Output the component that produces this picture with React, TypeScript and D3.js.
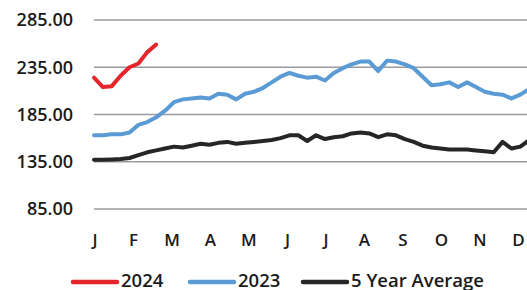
import { line, scaleLinear, select, curveLinear } from "d3";
import React, { useEffect, useRef } from "react";

const months = ["J", "F", "M", "A", "M", "J", "J", "A", "S", "O", "N", "D"];
const yTicks = [85, 135, 185, 235, 285];

// weekly prices
const series2024 = [224, 214, 215, 226, 235, 239, 251, 259];
const series2023 = [
    163, 163, 164, 164, 166, 174, 177, 182, 189, 198, 201, 202, 203, 202, 207,
    206, 201, 207, 209, 213, 219, 225, 229, 226, 224, 225, 221, 229, 234, 238,
    241, 241, 231, 242, 241, 238, 234, 225, 216, 217, 219, 214, 219, 214, 209,
    207, 206, 202, 206, 212, 216, 218,
];
const fiveYearAvg = [
    137, 137, 137.5, 138, 139, 142, 145, 147, 149, 151, 150, 152, 154, 153,
    155, 156, 154, 155, 156, 157, 158, 160, 163, 163, 157, 163, 159, 161, 162,
    165, 166, 165, 161, 164, 163, 159, 156, 152, 150, 149, 148, 148, 148, 147,
    146, 145, 156, 149, 151, 158, 160, 160,
];

const legendItems = [
    { label: "2024", color: "#e3262b" },
    { label: "2023", color: "#5b9bd5" },
    { label: "5 Year Average", color: "#262626" },
];

const App: React.FC = () => {
    const svgRef = useRef<SVGSVGElement>(null);

    useEffect(() => {
        const svg = select(svgRef.current);
        svg.selectAll("*").remove();

        const font = "'Open Sans', Lato, sans-serif";

        const xScale = scaleLinear().domain([0, 51]).range([94, 547]);
        const yScale = scaleLinear().domain([85, 285]).range([209, 20]);

        // gridlines
        svg.append("g")
            .selectAll("line")
            .data(yTicks)
            .enter()
            .append("line")
            .attr("x1", xScale(0))
            .attr("x2", 560)
            .attr("y1", d => yScale(d))
            .attr("y2", d => yScale(d))
            .attr("stroke", "#9a9aa0")
            .attr("stroke-width", 1.5);

        // y labels
        svg.append("g")
            .selectAll("text")
            .data(yTicks)
            .enter()
            .append("text")
            .attr("x", 73)
            .attr("y", d => yScale(d))
            .attr("dy", "0.36em")
            .attr("text-anchor", "end")
            .attr("font-family", font)
            .attr("font-size", 18)
            .attr("font-weight", 600)
            .attr("fill", "#1a1a1a")
            .text(d => d.toFixed(2));

        // month labels
        svg.append("g")
            .selectAll("text")
            .data(months)
            .enter()
            .append("text")
            .attr("x", (d, i) => xScale((i * 52) / 12) + 1)
            .attr("y", 246)
            .attr("text-anchor", "middle")
            .attr("font-family", font)
            .attr("font-size", 17)
            .attr("font-weight", 600)
            .attr("fill", "#1a1a1a")
            .text(d => d);

        const myLine = line<number>()
            .x((d, i) => xScale(i))
            .y(d => yScale(d))
            .curve(curveLinear);

        const drawSeries = (data: number[], color: string) => {
            svg.append("path")
                .datum(data)
                .attr("fill", "none")
                .attr("stroke", color)
                .attr("stroke-width", 4)
                .attr("stroke-linejoin", "round")
                .attr("stroke-linecap", "round")
                .attr("d", myLine as any);
        };

        drawSeries(fiveYearAvg, legendItems[2].color);
        drawSeries(series2023, legendItems[1].color);
        drawSeries(series2024, legendItems[0].color);

        // legend
        const legendX = [73, 190, 303];
        const legend = svg
            .append("g")
            .selectAll("g")
            .data(legendItems)
            .enter()
            .append("g")
            .attr("transform", (d, i) => "translate(" + legendX[i] + ",0)");
        legend
            .append("line")
            .attr("x1", 0)
            .attr("x2", 44)
            .attr("y1", 282)
            .attr("y2", 282)
            .attr("stroke", d => d.color)
            .attr("stroke-width", 4.5)
            .attr("stroke-linecap", "round");
        legend
            .append("text")
            .attr("x", 48)
            .attr("y", 287)
            .attr("font-family", font)
            .attr("font-size", 18.5)
            .attr("font-weight", 600)
            .attr("fill", "#1a1a1a")
            .text(d => d.label);
    }, []);

    return (
        <svg
            ref={svgRef}
            width={527}
            height={290}
            style={{ position: "absolute", left: 0, top: 0, background: "#fff" }}
        ></svg>
    );
};

export default App;
